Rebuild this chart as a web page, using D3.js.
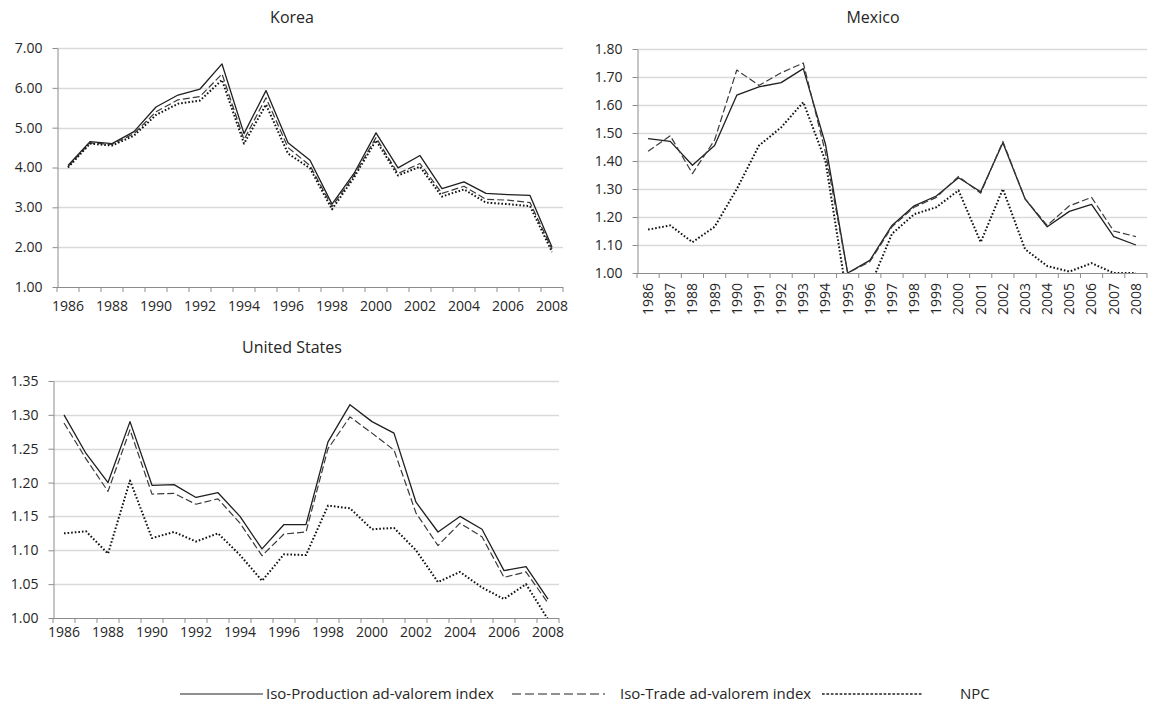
<!DOCTYPE html>
<meta charset="utf-8">
<script src="https://d3js.org/d3.v7.min.js"></script>
<style>
  body { margin: 0; background: #fff; }
  text { font-family: "Open Sans", sans-serif; fill: #262626; }
</style>
<body>
<svg id="chart" width="1149" height="706"></svg>
<script>

// categories
var years = ["1986","1987","1988","1989","1990","1991","1992","1993","1994","1995","1996","1997",
             "1998","1999","2000","2001","2002","2003","2004","2005","2006","2007","2008"];

// Korea
var koreaProd  = [4.05,4.65,4.60,4.90,5.52,5.82,5.97,6.60,4.85,5.93,4.62,4.18,3.08,3.85,4.87,3.99,4.30,3.47,3.64,3.35,3.32,3.30,2.00];
var koreaTrade = [4.02,4.62,4.58,4.85,5.40,5.70,5.78,6.35,4.70,5.75,4.50,4.05,3.02,3.80,4.75,3.85,4.10,3.35,3.53,3.20,3.18,3.12,1.95];
var koreaNpc   = [4.00,4.60,4.55,4.80,5.32,5.60,5.68,6.20,4.60,5.58,4.35,3.98,2.95,3.75,4.68,3.80,4.02,3.27,3.45,3.12,3.08,3.03,1.88];

// Mexico
var mexicoProd  = [1.48,1.47,1.385,1.455,1.635,1.665,1.68,1.73,1.46,1.00,1.045,1.17,1.24,1.275,1.34,1.29,1.465,1.265,1.165,1.22,1.245,1.13,1.10];
var mexicoTrade = [1.435,1.49,1.355,1.475,1.725,1.67,1.715,1.75,1.43,1.00,1.04,1.165,1.235,1.27,1.345,1.285,1.47,1.265,1.17,1.24,1.27,1.15,1.13];
var mexicoNpc   = [1.155,1.17,1.11,1.165,1.30,1.455,1.52,1.61,1.40,0.90,0.95,1.14,1.21,1.235,1.295,1.11,1.30,1.085,1.025,1.005,1.035,1.00,1.00];

// United States
var usProd  = [1.30,1.243,1.20,1.29,1.196,1.197,1.178,1.185,1.15,1.102,1.138,1.138,1.26,1.315,1.29,1.273,1.171,1.127,1.15,1.131,1.07,1.076,1.028];
var usTrade = [1.288,1.235,1.187,1.278,1.183,1.184,1.168,1.176,1.14,1.092,1.124,1.127,1.25,1.297,1.273,1.248,1.155,1.107,1.14,1.12,1.06,1.068,1.022];
var usNpc   = [1.125,1.128,1.095,1.203,1.118,1.127,1.113,1.125,1.093,1.055,1.094,1.093,1.166,1.162,1.131,1.133,1.10,1.053,1.068,1.045,1.028,1.05,0.998];

// tick labels
var koreaTicks  = [1,2,3,4,5,6,7];
var mexicoTicks = [1.0,1.1,1.2,1.3,1.4,1.5,1.6,1.7,1.8];
var usTicks     = [1.00,1.05,1.10,1.15,1.20,1.25,1.30,1.35];
var everyOther  = years.filter(function(d, i) { return i % 2 === 0; });

var seriesNames = ["Iso-Production ad-valorem index", "Iso-Trade ad-valorem index", "NPC"];

var styles = [
  { dash: null,    width: 1.3, color: "#1f1f1f" },
  { dash: "7,3",   width: 1.2, color: "#3a3a3a" },
  { dash: "1.6,2", width: 2,   color: "#111" }
];

var svg = d3.select("#chart");
var fmt = d3.format(".2f");

var panels = [
  { id: "korea", title: "Korea", tx: 292, ty: 23, left: 57, right: 563, top: 48, bottom: 287,
    ticks: koreaTicks, data: [koreaProd, koreaTrade, koreaNpc], labels: everyOther, rotate: false, pad: 14 },
  { id: "mexico", title: "Mexico", tx: 873, ty: 23, left: 637, right: 1147, top: 49, bottom: 273,
    ticks: mexicoTicks, data: [mexicoProd, mexicoTrade, mexicoNpc], labels: years, rotate: true, pad: 10 },
  { id: "us", title: "United States", tx: 292, ty: 353, left: 53, right: 559, top: 381, bottom: 618,
    ticks: usTicks, data: [usProd, usTrade, usNpc], labels: everyOther, rotate: false, pad: 9 }
];

panels.forEach(function(p) {
  var x = d3.scaleBand().domain(years).range([p.left, p.right]).padding(0);
  var y = d3.scaleLinear().domain([d3.min(p.ticks), d3.max(p.ticks)]).range([p.bottom, p.top]);

  var g = svg.append("g");

  // title
  g.append("text")
    .attr("x", p.tx).attr("y", p.ty)
    .attr("text-anchor", "middle")
    .style("font-size", "16px")
    .text(p.title);

  // gridlines
  g.selectAll(".grid")
    .data(p.ticks.slice(1))
    .enter().append("line")
      .attr("x1", p.left).attr("x2", p.right)
      .attr("y1", function(d) { return Math.round(y(d)) + 0.5; })
      .attr("y2", function(d) { return Math.round(y(d)) + 0.5; })
      .attr("stroke", "#d9d9d9")
      .attr("stroke-width", 1.5);

  // y axis
  var yAxis = g.append("g")
    .attr("transform", "translate(" + (p.left + 0.5) + ",0)")
    .call(d3.axisLeft(y).tickValues(p.ticks).tickFormat(fmt).tickSize(5).tickSizeOuter(0).tickPadding(10));
  yAxis.select(".domain").attr("stroke", "#8c8c8c");
  yAxis.selectAll(".tick line").attr("stroke", "#8c8c8c");
  yAxis.selectAll("text").style("font-size", "14px").attr("fill", "#262626");

  // x axis line and ticks at category boundaries
  g.append("line")
    .attr("x1", p.left).attr("x2", p.right)
    .attr("y1", p.bottom + 0.5).attr("y2", p.bottom + 0.5)
    .attr("stroke", "#8c8c8c");
  g.selectAll(".xtick")
    .data(years.concat(["end"]))
    .enter().append("line")
      .attr("x1", function(d) { return d === "end" ? p.right : x(d); })
      .attr("x2", function(d) { return d === "end" ? p.right : x(d); })
      .attr("y1", p.bottom)
      .attr("y2", p.bottom + 5)
      .attr("stroke", "#8c8c8c");

  // x labels
  var xl = g.append("g")
    .attr("transform", "translate(0," + p.bottom + ")")
    .call(d3.axisBottom(x).tickValues(p.labels).tickSize(0).tickPadding(p.pad));
  xl.select(".domain").remove();
  xl.selectAll("text").style("font-size", "14px").attr("fill", "#262626");
  if (p.rotate) {
    xl.selectAll("text")
      .attr("transform", "rotate(-90)")
      .attr("text-anchor", "end")
      .attr("x", -p.pad)
      .attr("y", 0)
      .attr("dy", "0.35em");
  }

  // clip
  svg.append("clipPath").attr("id", "clip-" + p.id)
    .append("rect")
      .attr("x", p.left).attr("y", p.top - 5)
      .attr("width", p.right - p.left).attr("height", p.bottom - p.top + 5);

  var line = d3.line()
    .x(function(d, i) { return x(years[i]) + x.bandwidth() / 2; })
    .y(function(d) { return y(d); });

  p.data.forEach(function(s, k) {
    g.append("path")
      .datum(s)
      .attr("clip-path", "url(#clip-" + p.id + ")")
      .attr("fill", "none")
      .attr("stroke", styles[k].color)
      .attr("stroke-width", styles[k].width)
      .attr("stroke-dasharray", styles[k].dash)
      .attr("stroke-linejoin", "round")
      .attr("d", line);
  });
});

// legend
var legendItems = [
  { x1: 180, x2: 263, tx: 266, dash: null,    w: 1.2 },
  { x1: 512, x2: 605, tx: 620, dash: "9,4",   w: 1.2 },
  { x1: 822, x2: 922, tx: 960, dash: "2.7,1.7", w: 1.3 }
];
var leg = svg.append("g");
legendItems.forEach(function(it, k) {
  leg.append("line")
    .attr("x1", it.x1).attr("x2", it.x2)
    .attr("y1", 694).attr("y2", 694)
    .attr("stroke", "#222")
    .attr("stroke-width", it.w)
    .attr("stroke-dasharray", it.dash);
  leg.append("text")
    .attr("x", it.tx).attr("y", 699)
    .style("font-size", "15px")
    .text(seriesNames[k]);
});

</script>
</body>
